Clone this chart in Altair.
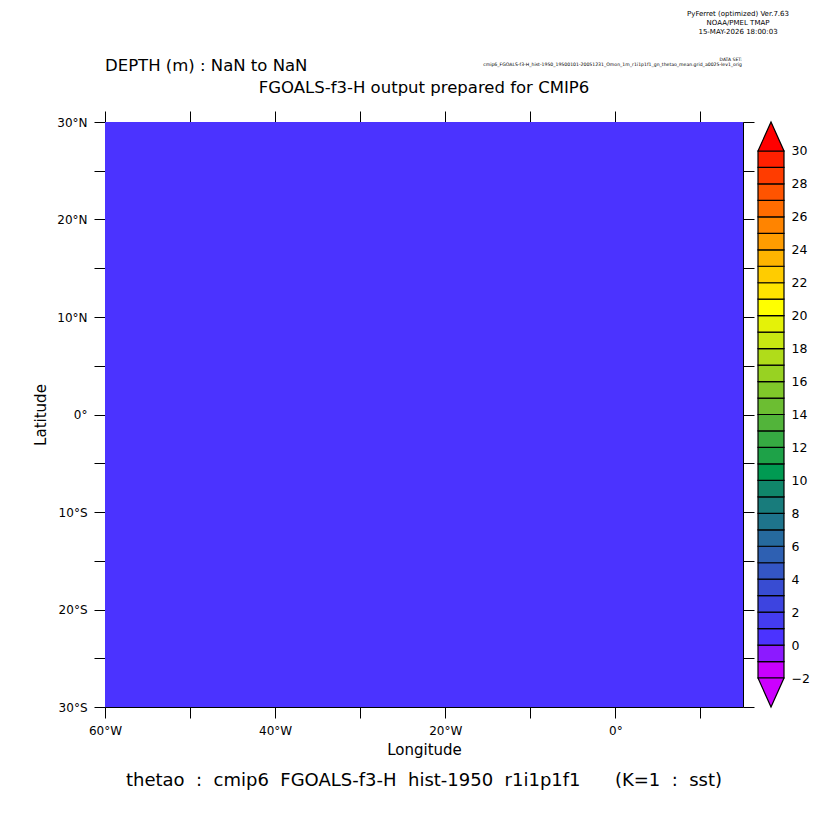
import altair as alt
import pandas as pd

FONT = "DejaVu Sans"

# ---------------- data ----------------
levels = list(range(-2, 31))          # colour-bar boundaries
colors = [
    "#cc00ff",  # below -2
    "#c800ff", "#8c1aff", "#4b33ff", "#443cf0", "#3d44e0", "#384cd2",
    "#3456c4", "#2e60b2", "#266a9e", "#1e748c", "#187c7c", "#10866a",
    "#009a52", "#1ea248", "#36aa42", "#52b43a", "#6cbe32", "#80c82a",
    "#98d222", "#b0dc1a", "#c8e812", "#e4f208", "#ffff00", "#ffe400",
    "#ffcc00", "#ffb400", "#ff9c00", "#ff8400", "#ff6c00", "#ff5400",
    "#ff3c00", "#ff2000",
    "#ff0000",  # above 30
]
lon_ticks = list(range(-60, 11, 10))
lat_ticks = list(range(-30, 31, 5))
cbar_labels = list(range(-2, 31, 2))
lon_domain = [-60, 15]
lat_domain = [-30, 30]

# the field: uniform value over the whole region
field_lon0 = [-60]
field_lon1 = [15]
field_lat0 = [-30]
field_lat1 = [30]
field_val = [0.5]

ext = 1.76  # length of the colour-bar end triangles (in level units)

title_depth = "DEPTH (m) : NaN to NaN"
title_main = "FGOALS-f3-H output prepared for CMIP6"
title_bottom = "thetao : cmip6 FGOALS-f3-H hist-1950 r1i1p1f1   (K=1 : sst)"
ferret_lines = ["PyFerret (optimized) Ver.7.63", "NOAA/PMEL TMAP", "15-MAY-2026 18:00:03"]
dataset_label = "DATA SET:"
dataset_name = "cmip6_FGOALS-f3-H_hist-1950_19500101-20051231_Omon_1m_r1i1p1f1_gn_thetao_mean.grid_a0025-lev1_orig"

# ---------------- tables ----------------
field = pd.DataFrame({"lon0": field_lon0, "lon1": field_lon1,
                      "lat0": field_lat0, "lat1": field_lat1, "value": field_val})
bands = pd.DataFrame({
    "lo": levels[:-1],
    "hi": levels[1:],
    "value": [l + 0.5 for l in levels[:-1]],
    "x0": [0] * (len(levels) - 1),
    "x1": [1] * (len(levels) - 1),
})
tri_up = pd.DataFrame({"cx": [0, 0.5, 1],
                       "lo": [levels[-1], levels[-1] + ext, levels[-1]],
                       "hi": [levels[-1]] * 3,
                       "value": [levels[-1] + 1] * 3})
tri_dn = pd.DataFrame({"cx": [0, 0.5, 1],
                       "lo": [levels[0], levels[0] - ext, levels[0]],
                       "hi": [levels[0]] * 3,
                       "value": [levels[0] - 1] * 3})

cscale = alt.Scale(type="threshold", domain=levels, range=colors)
xscale = alt.Scale(domain=lon_domain, nice=False, zero=False)
yscale = alt.Scale(domain=lat_domain, nice=False, zero=False)

lon_expr = ("datum.value % 20 == 0 ? (datum.value == 0 ? '0°' : (datum.value < 0 ? "
            "(-datum.value) + '°W' : datum.value + '°E')) : ''")
lat_expr = ("datum.value % 10 == 0 ? (datum.value == 0 ? '0°' : (datum.value > 0 ? "
            "datum.value + '°N' : (-datum.value) + '°S')) : ''")

common_axis = dict(grid=False, tickSize=11, tickColor="black", domainColor="black",
                   labelColor="black", labelFont=FONT, titleFont=FONT,
                   labelFlush=False, labelOverlap=False)

W, H = 638, 585

layer_a = alt.Chart(field).mark_rect().encode(
    x=alt.X("lon0:Q", scale=xscale,
            axis=alt.Axis(orient="bottom", values=lon_ticks, labelExpr=lon_expr,
                          labelFontSize=12, labelPadding=7, title="Longitude",
                          titleFontSize=15, titleFontWeight="normal", titlePadding=6,
                          titleColor="black", **common_axis)),
    x2="lon1:Q",
    y=alt.Y("lat0:Q", scale=yscale,
            axis=alt.Axis(orient="left", values=lat_ticks, labelExpr=lat_expr,
                          labelFontSize=12, labelPadding=7, title="Latitude",
                          titleFontSize=15, titleFontWeight="normal", titlePadding=8,
                          titleColor="black", **common_axis)),
    y2="lat1:Q",
    color=alt.Color("value:Q", scale=cscale, legend=None),
)

layer_b = alt.Chart(field).mark_rect(opacity=0).encode(
    x=alt.X("lon0:Q", scale=xscale,
            axis=alt.Axis(orient="top", values=lon_ticks, labels=False, title=None,
                          **common_axis)),
    x2="lon1:Q",
    y=alt.Y("lat0:Q", scale=yscale,
            axis=alt.Axis(orient="right", values=lat_ticks, labels=False, title=None,
                          **common_axis)),
    y2="lat1:Q",
)


def txt(text, x, y, size, align="center", baseline="middle"):
    return alt.Chart(pd.DataFrame({"t": [text]})).mark_text(
        align=align, baseline=baseline, fontSize=size, font=FONT, color="black"
    ).encode(x=alt.value(x), y=alt.value(y), text="t:N")


texts = [
    txt(title_depth, 0, -56, 16.5, align="left"),
    txt(title_main, 319, -34, 16.5),
    txt(title_bottom.replace(" ", "\u00a0\u00a0"), 319, 659, 18),
    txt(ferret_lines[0], 633, -108, 7),
    txt(ferret_lines[1], 633, -99, 7),
    txt(ferret_lines[2], 633, -90, 7),
    txt(dataset_label, 637, -62, 4.5, align="right"),
    txt(dataset_name, 637, -57.5, 4.6, align="right"),
]

main = alt.layer(layer_a, layer_b, *texts).resolve_axis(
    x="independent", y="independent").properties(width=W, height=H)

cy_scale = alt.Scale(domain=[levels[0] - ext, levels[-1] + ext], nice=False, zero=False)
cx_scale = alt.Scale(domain=[0, 1], nice=False, zero=False)
cb_axis = alt.Axis(orient="right", values=cbar_labels, ticks=False, tickSize=0,
                   domain=False, labelPadding=7, labelFontSize=12.5,
                   labelColor="black", labelFont=FONT, title=None, grid=False,
                   labelFlush=False, labelOverlap=False)

cb_rect = alt.Chart(bands).mark_rect(stroke="black", strokeWidth=1.2).encode(
    x=alt.X("x0:Q", scale=cx_scale, axis=None),
    x2="x1:Q",
    y=alt.Y("lo:Q", scale=cy_scale, axis=cb_axis),
    y2="hi:Q",
    color=alt.Color("value:Q", scale=cscale, legend=None),
)


def tri(df):
    return alt.Chart(df).mark_area(stroke="black", strokeWidth=1.2).encode(
        x=alt.X("cx:Q", scale=cx_scale, axis=None),
        y=alt.Y("lo:Q", scale=cy_scale, axis=cb_axis),
        y2="hi:Q",
        color=alt.Color("value:Q", scale=cscale, legend=None),
    )


cbar = alt.layer(cb_rect, tri(tri_up), tri(tri_dn)).properties(width=26, height=H)

chart = alt.hconcat(main, cbar, spacing=15, bounds="flush").properties(
    padding={"left": 25, "top": 2, "right": 4, "bottom": 4}
).configure(font=FONT).configure_view(stroke=None)

chart.save("out.html", embed_options={"renderer": "svg", "actions": False})
